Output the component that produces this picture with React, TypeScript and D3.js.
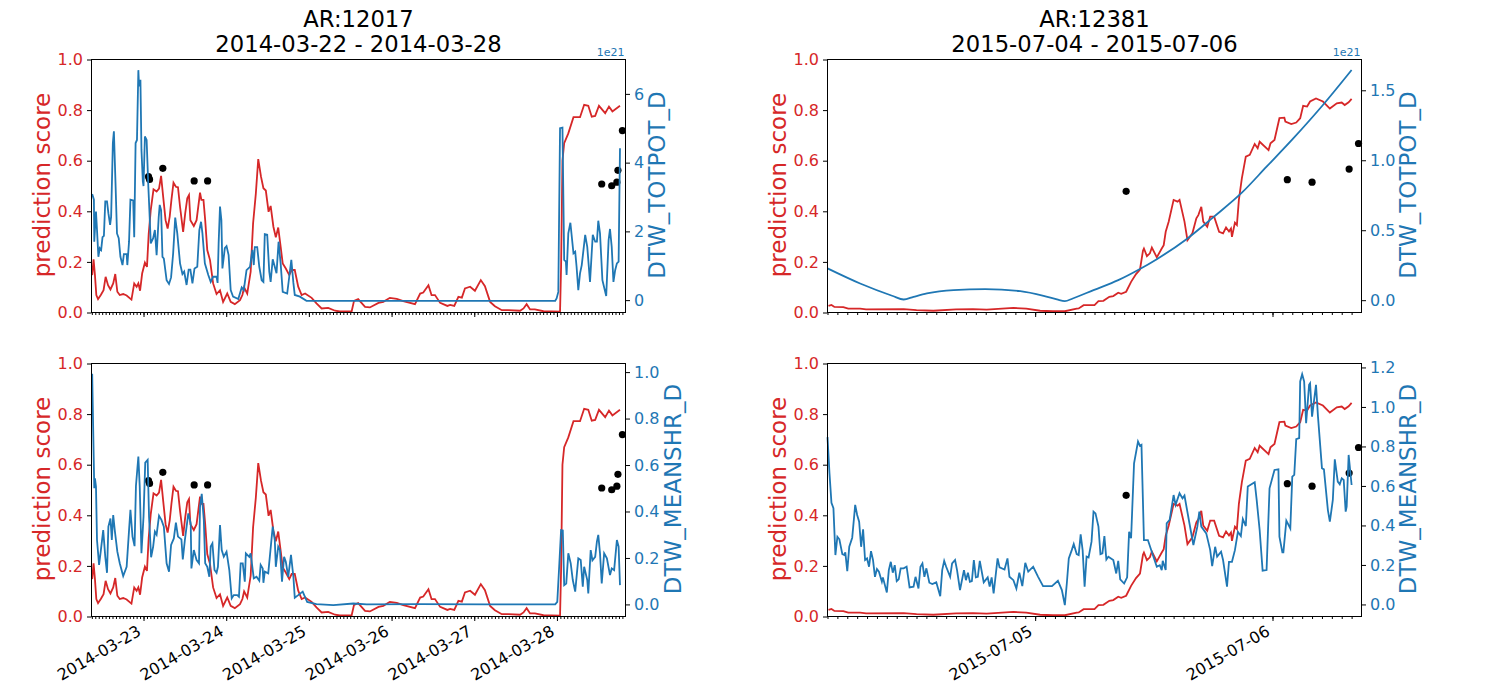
import { useEffect, useRef } from "react";
import * as d3 from "d3";

type Pt = [number, number]; // hours from the reference midnight, value

const RED = "#d62728";
const BLUE = "#1f77b4";

// AR 12017, hours from 2014-03-23 00:00
const score12017: Pt[] = [[-14.9,.148],[-14.5,.21],[-14.1,.148],[-13.7,.069],[-13.2,.053],[-12.4,.069],[-11.6,.088],[-11,.141],[-10.3,.108],[-9.6,.091],[-8.8,.115],[-8.2,.152],[-7.6,.082],[-6.9,.069],[-5.9,.073],[-4.9,.067],[-3.5,.051],[-2.7,.115],[-2,.102],[-1.5,.115],[-1,.086],[-.4,.154],[.4,.197],[1,.18],[1.5,.31],[2.1,.405],[2.9,.487],[3.8,.478],[4.5,.49],[5.1,.54],[5.7,.458],[6.4,.365],[7,.332],[7.6,.379],[8.1,.445],[8.7,.513],[9.4,.497],[10,.495],[10.6,.418],[11.5,.319],[12.1,.392],[12.7,.451],[13.2,.464],[13.6,.365],[14.6,.342],[15.4,.365],[16.4,.474],[16.8,.445],[17.4,.445],[17.9,.365],[18.5,.247],[19.3,.207],[20.2,.115],[21.2,.073],[22.2,.088],[23.1,.042],[24.3,.075],[25.3,.042],[26.5,.033],[28,.049],[28.7,.069],[29.2,.099],[30.1,.075],[31.1,.161],[31.8,.352],[32.6,.47],[33.3,.606],[34.1,.537],[34.8,.491],[35.5,.482],[36.3,.398],[36.9,.421],[37.7,.339],[38.4,.297],[39.1,.336],[39.8,.26],[40.4,.194],[41.3,.174],[42.3,.148],[43,.168],[43.9,.168],[44.9,.102],[45.9,.069],[46.9,.075],[48.8,.058],[50.2,.036],[51.7,.016],[53.6,.018],[55.6,.007],[57,.004],[60.4,.004],[61.1,.046],[62.3,.053],[64.3,.022],[65.7,.02],[68.2,.038],[69.6,.042],[71.5,.058],[73.5,.054],[75.4,.045],[78.8,.033],[80.3,.075],[81.2,.079],[82.7,.108],[83.6,.069],[84.6,.069],[86.1,.038],[88.2,.026],[89,.03],[90.2,.026],[91.4,.062],[92.4,.059],[93.3,.095],[94.8,.102],[96.2,.086],[97.9,.128],[99.1,.104],[100.6,.042],[102,.025],[104,.009],[105.9,.009],[109.3,.007],[110.3,.016],[111.2,.033],[112.2,.012],[113.6,.012],[116.1,.005],[120.9,.003],[121.2,.18],[121.6,.6],[122.1,.669],[123.3,.708],[124.8,.772],[126.7,.772],[127.9,.821],[129.1,.817],[130.1,.774],[131.1,.777],[132.2,.817],[134,.788],[135.1,.814],[136.1,.795],[138.3,.817]];
const totpot12017: Pt[] = [[-14.9,3.09],[-14.4,2.92],[-14.3,1.7],[-13.8,2.58],[-13.5,2.04],[-13.1,1.26],[-12.7,1.51],[-12.3,1.46],[-11.9,1.83],[-11.5,1.87],[-11.1,2.87],[-10.6,2.87],[-10.2,2.53],[-9.7,2.19],[-9.4,2.43],[-8.9,4.57],[-8.6,4.91],[-8.1,3.3],[-7.7,1.94],[-7.2,1.8],[-6.7,1.26],[-6.1,1.02],[-5.7,1.34],[-4.9,1.34],[-4.7,1.02],[-4.2,1.7],[-3.8,2.92],[-3,2.9],[-2.7,1.83],[-2.3,4.57],[-1.9,4.66],[-1.5,6.69],[-1.3,6.22],[-.9,6.41],[-.6,4.37],[-.2,3.45],[0,3.32],[.4,4.76],[.9,4.66],[1.4,3.3],[1.7,2.62],[2.1,1.65],[2.8,1.8],[3.3,2.04],[3.8,1.31],[4.4,2.4],[4.7,2.77],[5.1,2.62],[5.5,1.26],[5.9,1.21],[6.7,.58],[7.4,.47],[8,.66],[8.6,1.36],[9.2,2.4],[9.8,1.94],[10.6,1.07],[11.3,.76],[11.8,.83],[12.5,.44],[13.1,.89],[13.6,.89],[14.2,.49],[14.8,.92],[15.6,.97],[16.2,2.04],[16.7,2.28],[17.1,1.94],[17.8,1.07],[18.8,.73],[19.5,.53],[20.2,.68],[21.2,.68],[21.5,.5],[21.8,1.65],[22.2,2.72],[22.6,2.33],[22.9,.92],[23.6,1.51],[24.1,1.57],[24.7,1.31],[25.3,.29],[26,.1],[27.5,.03],[28.5,.37],[29.1,.29],[29.9,.87],[30.9,.97],[31.6,1.46],[32,1.02],[32.3,1.54],[33,1.54],[33.6,.97],[34.3,.58],[34.8,.53],[35.2,1.92],[35.9,1.9],[36.5,.83],[36.9,.53],[37.5,1.19],[38.1,.97],[38.6,.78],[39.2,1.7],[39.8,1.07],[40.4,.24],[41.7,.19],[42.3,.68],[42.9,1.17],[43.5,.5],[43.9,.15],[45.4,.1],[47.3,-.02],[80,-.02],[119.5,-.02],[119.9,.05],[120.4,.24],[120.9,5],[121.6,5.02],[122.1,1.17],[122.6,1.12],[122.8,.73],[123.3,1.94],[123.9,2.25],[124.8,1.36],[125.3,1.41],[125.7,.97],[126.2,.29],[126.7,.78],[127.2,1.02],[128.2,1.9],[128.8,1.55],[129.6,.53],[130.4,1.9],[131.1,1.7],[131.6,1.7],[132,2.31],[132.5,1.94],[133.2,.58],[134.3,.12],[135,1.75],[135.4,2.07],[135.9,1.55],[136.4,.53],[136.9,.87],[137.4,1.07],[137.9,1.12],[138.3,4.42]];
const meanshr12017: Pt[] = [[-14.9,.993],[-14.5,.665],[-14.3,.5],[-14.1,.543],[-13.8,.507],[-13.5,.277],[-12.9,.17],[-12.4,.23],[-11.7,.32],[-11.1,.205],[-10.6,.136],[-10.2,.335],[-9.6,.37],[-9.2,.277],[-8.8,.385],[-8.3,.313],[-7.6,.227],[-6.9,.177],[-5.9,.122],[-4.9,.162],[-4.2,.32],[-3.8,.407],[-3.2,.292],[-2.6,.251],[-2.2,.51],[-1.5,.636],[-1.1,.507],[-.6,.22],[0,.378],[.5,.61],[1.2,.622],[1.6,.378],[2.2,.203],[2.8,.249],[3.3,.313],[3.8,.3],[4.5,.382],[5.2,.364],[5.9,.335],[6.7,.177],[7.4,.141],[8,.256],[8.8,.284],[9.4,.352],[10,.292],[11,.28],[11.4,.194],[12,.277],[13,.392],[13.7,.349],[13.9,.155],[14.6,.234],[15.4,.191],[16.1,.177],[16.4,.42],[16.9,.476],[17.5,.364],[17.9,.177],[18.5,.162],[19.1,.119],[19.5,.249],[20,.263],[20.6,.148],[21.2,.136],[21.6,.162],[22.2,.342],[22.7,.234],[23.3,.205],[24.1,.227],[24.9,.148],[25.6,.026],[26.2,.04],[27.2,.04],[27.7,.033],[28.2,.177],[28.8,.177],[29.4,.098],[29.7,.22],[30.7,.205],[31.1,.22],[32,.112],[32.8,.119],[33.6,.102],[34,.17],[34.6,.155],[34.8,.093],[35.2,.141],[36.2,.134],[37.5,.335],[38.1,.277],[38.4,.162],[39.1,.249],[39.6,.234],[40.2,.098],[40.8,.205],[41.3,.184],[42,.119],[42.8,.213],[43.5,.119],[43.9,.029],[44.9,.04],[46.2,.055],[47.5,.011],[50.2,.001],[55.1,-.003],[60.9,.004],[64.8,0],[80,.001],[100,0],[119.5,0],[120.1,.011],[120.7,.177],[121.2,.32],[121.7,.318],[122.1,.083],[122.7,.09],[123.3,.22],[124,.177],[124.6,.105],[125.3,.055],[126.2,.198],[126.9,.191],[127.5,.076],[127.9,.162],[128.8,.105],[129.1,.047],[129.8,.234],[130.3,.19],[131.1,.205],[131.6,.27],[132,.299],[132.5,.22],[133,.09],[133.7,.22],[134.5,.198],[135.4,.126],[135.9,.155],[136.6,.148],[137.4,.277],[137.9,.249],[138.3,.083]];
const flares12017: Pt[] = [[1.45,.537],[1.75,.526],[5.6,.57],[14.7,.52],[18.6,.52],[133,.508],[135.9,.501],[137.4,.515],[137.7,.562],[139,.719]];

// AR 12381, hours from 2015-07-05 00:00
const score12381: Pt[] = [[-20.9,.026],[-20.6,.03],[-20.3,.022],[-19.4,.021],[-18.9,.015],[-17.7,.015],[-17.1,.012],[-13.3,.013],[-12,.009],[-10.3,.007],[-8,.012],[-6.3,.013],[-4.9,.011],[-2.2,.018],[-.9,.015],[.5,.007],[1.8,.005],[3,.005],[4.2,.015],[4.4,.016],[4.9,.029],[6,.029],[6.4,.045],[6.9,.046],[7.5,.062],[7.9,.065],[8.4,.078],[8.7,.074],[9.2,.082],[9.7,.121],[10.2,.152],[10.6,.17],[10.9,.244],[11,.253],[11.3,.223],[11.6,.234],[11.8,.257],[12.3,.218],[12.8,.253],[13,.266],[13.2,.319],[13.5,.359],[14,.445],[14.4,.438],[14.6,.445],[15.1,.359],[15.4,.286],[15.9,.313],[16.3,.372],[16.5,.385],[16.8,.418],[17,.359],[17.4,.339],[17.7,.379],[18.1,.379],[18.6,.319],[19,.313],[19.3,.336],[19.6,.32],[19.8,.332],[19.9,.299],[20.2,.355],[20.4,.346],[20.6,.445],[20.9,.53],[21.3,.616],[21.7,.623],[22.2,.666],[22.5,.649],[22.7,.675],[23.6,.642],[23.8,.669],[24.2,.682],[24.7,.768],[25.2,.77],[25.3,.755],[25.9,.745],[26.4,.751],[26.8,.768],[27.1,.817],[27.5,.814],[27.8,.834],[28.4,.846],[29.1,.834],[29.8,.806],[30.5,.827],[31,.83],[31.3,.82],[31.7,.831],[32,.844]];
const totpot12381: Pt[] = [[-21,.227],[-17.7,.119],[-14.4,.03],[-13.3,.005],[-12.3,.024],[-10.95,.048],[-8.25,.072],[-5.05,.079],[-1.5,.064],[.85,.031],[2.2,.006],[3,-.007],[3.8,.012],[5.9,.072],[8.4,.143],[10.5,.219],[12.3,.293],[15.3,.436],[18,.592],[20.9,.768],[23.4,.954],[26.1,1.156],[29.1,1.395],[32,1.645]];
const meanshr12381: Pt[] = [[-21,.847],[-20.8,.664],[-20.6,.515],[-20.4,.487],[-20.2,.25],[-20,.343],[-19.8,.33],[-19.5,.255],[-19.3,.25],[-19.2,.264],[-19,.169],[-18.8,.292],[-18.5,.338],[-18.2,.504],[-18,.453],[-17.8,.419],[-17.6,.292],[-17.4,.38],[-17.2,.225],[-17,.233],[-16.8,.191],[-16.6,.27],[-16.4,.225],[-16.2,.14],[-16,.179],[-15.8,.166],[-15.5,.115],[-15.4,.137],[-15,.061],[-14.8,.174],[-14.6,.216],[-14.4,.161],[-14.2,.199],[-14,.118],[-13.8,.127],[-13.6,.183],[-13.3,.183],[-13,.191],[-12.7,.086],[-12.3,.09],[-12.1,.14],[-11.8,.081],[-11.6,.191],[-11.4,.208],[-11.2,.14],[-11,.183],[-10.7,.11],[-10.4,.103],[-10,.112],[-9.6,.042],[-9.4,.174],[-9.2,.221],[-9,.191],[-8.6,.14],[-8.4,.208],[-8.1,.225],[-7.9,.174],[-7.6,.073],[-7.2,.174],[-7,.123],[-6.8,.161],[-6.6,.115],[-6.4,.118],[-6.2,.225],[-6,.137],[-5.8,.14],[-5.6,.221],[-5.2,.112],[-4.8,.137],[-4.6,.09],[-4.4,.137],[-4.2,.056],[-3.8,.233],[-3.6,.188],[-3.1,.177],[-2.8,.233],[-2.6,.14],[-2.2,.123],[-1.9,.081],[-1.6,.161],[-1.3,.093],[-1,.211],[-.7,.166],[-.2,.191],[.3,.14],[.8,.093],[1.7,.093],[2.3,.12],[2.7,.073],[3,-.003],[3.2,.106],[3.4,.233],[3.7,.275],[3.9,.306],[4.2,.255],[4.4,.25],[4.6,.355],[4.8,.275],[5,.09],[5.2,.242],[5.4,.238],[5.7,.318],[5.9,.47],[6.1,.461],[6.4,.394],[6.6,.255],[6.8,.259],[7,.346],[7.2,.228],[7.4,.242],[7.9,.225],[8.2,.157],[8.4,.221],[8.6,.127],[9,.106],[9.3,.137],[9.5,.368],[9.7,.335],[10,.715],[10.4,.825],[10.6,.803],[10.75,.808],[11,.326],[11.4,.326],[11.9,.25],[12.3,.191],[12.6,.199],[12.8,.174],[12.9,.221],[13.2,.174],[13.3,.411],[13.6,.428],[14,.554],[14.2,.504],[14.6,.563],[14.9,.537],[15.1,.551],[15.6,.411],[16,.301],[16.4,.394],[16.6,.47],[16.8,.394],[17.3,.36],[17.5,.318],[17.7,.275],[17.9,.194],[18.2,.292],[18.4,.242],[18.8,.267],[19,.225],[19.4,.09],[19.6,.216],[19.9,.216],[20.2,.275],[20.5,.368],[20.8,.346],[21,.433],[21.3,.397],[21.5,.597],[22.2,.619],[22.4,.529],[22.7,.377],[23,.171],[23.4,.174],[23.7,.588],[24.2,.681],[24.6,.684],[24.7,.343],[25,.264],[25.1,.264],[25.4,.424],[25.8,.385],[26,.647],[26.2,.656],[26.4,.837],[26.7,.842],[26.8,1.129],[27,1.166],[27.2,1.129],[27.4,.918],[27.7,1.112],[27.8,1.12],[28,.951],[28.4,1.112],[28.6,.951],[29,.69],[29.2,.684],[29.6,.478],[29.8,.419],[30.1,.529],[30.3,.735],[30.6,.622],[30.8,.608],[31,.639],[31.2,.63],[31.4,.47],[31.5,.495],[31.7,.757],[32,.605]];
const flares12381: Pt[] = [[9.2,.479],[25.5,.525],[28,.515],[31.75,.567],[32.7,.668]];

const scoreTicks = [0, 0.2, 0.4, 0.6, 0.8, 1.0];
const totpotTicks12017 = [0, 2, 4, 6];
const totpotTicks12381 = [0, 0.5, 1.0, 1.5];
const meanshrTicks12017 = [0, 0.2, 0.4, 0.6, 0.8, 1.0];
const meanshrTicks12381 = [0, 0.2, 0.4, 0.6, 0.8, 1.0, 1.2];

interface Panel {
    left: number; right: number; top: number; bottom: number;
    refDay: number; hours: [number, number];
    score: Pt[]; flares: Pt[]; second: Pt[];
    secondDomain: [number, number]; secondTicks: number[]; tickFmt: string;
    secondLabel: string; labelLeftX: number; labelRightX: number;
    offsetText?: string; dates: boolean; smooth?: boolean;
}

const day12017 = Date.UTC(2014, 2, 23);
const day12381 = Date.UTC(2015, 6, 5);
const hoursA: [number, number] = [-15.1, 139.9];
const hoursB: [number, number] = [-21, 33];

const panels: Panel[] = [
    { left: 91.5, right: 625.5, top: 59.5, bottom: 312.5, refDay: day12017, hours: hoursA, score: score12017, flares: flares12017, second: totpot12017,
      secondDomain: [-0.36, 7.0], secondTicks: totpotTicks12017, tickFmt: "d", secondLabel: "DTW_TOTPOT_D", labelLeftX: 50, labelRightX: 665, offsetText: "1e21", dates: false },
    { left: 91.5, right: 625.5, top: 363.5, bottom: 616.5, refDay: day12017, hours: hoursA, score: score12017, flares: flares12017, second: meanshr12017,
      secondDomain: [-0.052, 1.037], secondTicks: meanshrTicks12017, tickFmt: ".1f", secondLabel: "DTW_MEANSHR_D", labelLeftX: 50, labelRightX: 680.5, dates: true },
    { left: 827.5, right: 1361.5, top: 59.5, bottom: 312.5, refDay: day12381, hours: hoursB, score: score12381, flares: flares12381, second: totpot12381,
      secondDomain: [-0.088, 1.72], secondTicks: totpotTicks12381, tickFmt: ".1f", secondLabel: "DTW_TOTPOT_D", labelLeftX: 786, labelRightX: 1416, offsetText: "1e21", dates: false, smooth: true },
    { left: 827.5, right: 1361.5, top: 363.5, bottom: 616.5, refDay: day12381, hours: hoursB, score: score12381, flares: flares12381, second: meanshr12381,
      secondDomain: [-0.061, 1.22], secondTicks: meanshrTicks12381, tickFmt: ".1f", secondLabel: "DTW_MEANSHR_D", labelLeftX: 786, labelRightX: 1416, dates: true },
];

const titles = [
    { lines: ["AR:12017", "2014-03-22 - 2014-03-28"], x: 358.5 },
    { lines: ["AR:12381", "2015-07-04 - 2015-07-06"], x: 1094.5 },
];

const FONT = "'DejaVu Sans', sans-serif";
const TICK_SIZE = 16;
const LABEL_SIZE = 23;

function drawPanel(svg: d3.Selection<SVGSVGElement, unknown, null, undefined>, p: Panel) {
    const toDate = (h: number) => new Date(p.refDay + h * 3600e3);
    const x = d3.scaleUtc().domain([toDate(p.hours[0]), toDate(p.hours[1])]).range([p.left, p.right]);
    const yScore = d3.scaleLinear().domain([0, 1]).range([p.bottom, p.top]);
    const ySecond = d3.scaleLinear().domain(p.secondDomain).range([p.bottom, p.top]);
    const g = svg.append("g");

    const scoreLine = d3.line<Pt>().x((d) => x(toDate(d[0]))).y((d) => yScore(d[1]));
    const secondLine = d3.line<Pt>().x((d) => x(toDate(d[0]))).y((d) => ySecond(d[1]));
    if (p.smooth) secondLine.curve(d3.curveMonotoneX);

    g.append("path").datum(p.score).attr("fill", "none").attr("stroke", RED).attr("stroke-width", 1.8).attr("d", scoreLine);
    g.selectAll("circle").data(p.flares).join("circle")
        .attr("cx", (d) => x(toDate(d[0]))).attr("cy", (d) => yScore(d[1])).attr("r", 3.6).attr("fill", "black");
    g.append("path").datum(p.second).attr("fill", "none").attr("stroke", BLUE).attr("stroke-width", 1.8).attr("d", secondLine);

    // frame
    g.append("rect").attr("x", p.left).attr("y", p.top).attr("width", p.right - p.left).attr("height", p.bottom - p.top)
        .attr("fill", "none").attr("stroke", "black").attr("stroke-width", 1);

    // Axes
    const [d0, d1] = x.domain();
    const minor = g.append("g").attr("transform", `translate(0,${p.bottom})`)
        .call(d3.axisBottom(x).tickValues(d3.utcHour.range(d0, d1)).tickSize(2.5).tickFormat(() => ""));
    minor.select(".domain").remove();
    const major = g.append("g").attr("transform", `translate(0,${p.bottom})`)
        .call(d3.axisBottom(x).tickValues(d3.utcDay.range(d0, d1)).tickSize(4.5).tickFormat(d3.utcFormat("%Y-%m-%d") as any));
    major.select(".domain").remove();
    major.selectAll<SVGTextElement, Date>("text")
        .attr("display", p.dates ? null : "none")
        .attr("fill", "black").attr("font-size", TICK_SIZE).attr("font-family", FONT)
        .attr("text-anchor", "end").attr("dy", null).attr("y", 0)
        .attr("transform", "translate(-2,18) rotate(-30)");

    const leftAxis = g.append("g").attr("transform", `translate(${p.left},0)`)
        .call(d3.axisLeft(yScore).tickValues(scoreTicks).tickSize(4.5).tickPadding(4).tickFormat(d3.format(".1f") as any));
    leftAxis.select(".domain").remove();
    leftAxis.selectAll("text").attr("fill", RED).attr("font-size", TICK_SIZE).attr("font-family", FONT);

    const rightAxis = g.append("g").attr("transform", `translate(${p.right},0)`)
        .call(d3.axisRight(ySecond).tickValues(p.secondTicks).tickSize(4.5).tickPadding(4).tickFormat(d3.format(p.tickFmt) as any));
    rightAxis.select(".domain").remove();
    rightAxis.selectAll("text").attr("fill", BLUE).attr("font-size", TICK_SIZE).attr("font-family", FONT);

    const cy = (p.top + p.bottom) / 2 - 1;
    g.append("text").text("prediction score").attr("transform", `translate(${p.labelLeftX},${cy}) rotate(-90)`)
        .attr("text-anchor", "middle").attr("fill", RED).attr("font-size", LABEL_SIZE).attr("font-family", FONT);
    g.append("text").text(p.secondLabel).attr("transform", `translate(${p.labelRightX},${cy}) rotate(-90)`)
        .attr("text-anchor", "middle").attr("fill", BLUE).attr("font-size", LABEL_SIZE).attr("font-family", FONT);

    if (p.offsetText) {
        g.append("text").text(p.offsetText).attr("x", p.right - 1).attr("y", p.top - 3.5)
            .attr("text-anchor", "end").attr("fill", BLUE).attr("font-size", 11).attr("font-family", FONT);
    }
}

export default function App() {
    const svgRef = useRef<SVGSVGElement | null>(null);

    useEffect(() => {
        if (!svgRef.current) return;
        const svg = d3.select<SVGSVGElement, unknown>(svgRef.current);
        svg.selectAll("*").remove(); // Clear previous elements

        panels.forEach((p) => drawPanel(svg, p));

        titles.forEach((t) => {
            t.lines.forEach((line, i) => {
                svg.append("text").text(line).attr("x", t.x).attr("y", 26.5 + i * 25.5)
                    .attr("text-anchor", "middle").attr("fill", "black").attr("font-size", 22.7).attr("font-family", FONT);
            });
        });
    }, []);

    return <svg ref={svgRef} width={1502} height={688} style={{ position: "absolute", left: 0, top: 0, background: "white" }}></svg>;
}
